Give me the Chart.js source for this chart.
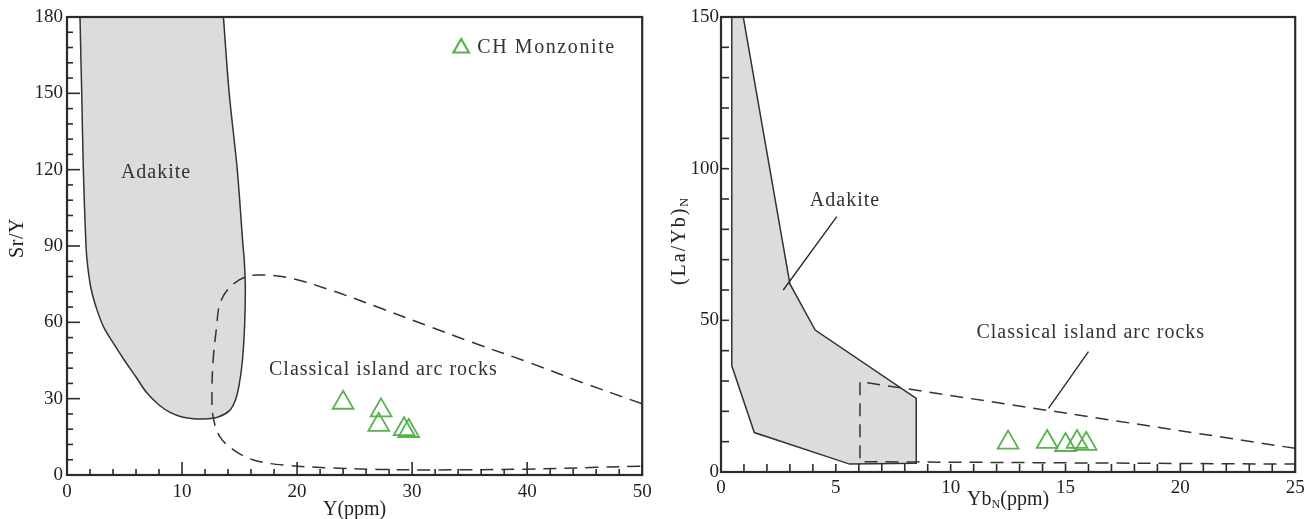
<!DOCTYPE html>
<html>
<head>
<meta charset="utf-8">
<script src="https://cdn.jsdelivr.net/npm/chart.js@4.4.1/dist/chart.umd.min.js"></script>
<style>
  html, body { margin: 0; padding: 0; background: #fff; overflow: hidden; }
  .wrap { position: relative; width: 1304px; height: 519px; overflow: hidden; }
  canvas { display: block; position: absolute; top: 0; }
  #srY { left: 0; }
  #laYb { left: 652px; }
</style>
</head>
<body>
<div class="wrap">
  <canvas id="srY" width="656" height="519"></canvas>
  <canvas id="laYb" width="657" height="519"></canvas>
</div>
<script>
// ---- Sr/Y vs Y diagram ----
const srYSampleY = [24.0, 27.3, 27.1, 29.3, 29.7];
const srYSampleRatio = [28.4, 25.4, 19.7, 18.0, 17.3];

// field outline runs a little past the top edge so the corners get clipped
const srYAdakiteX = [1.1, 1.13, 1.28, 1.42, 1.65, 1.8, 2.1, 2.6, 3.2, 4.0, 5.0, 6.0, 6.9, 8.0, 9.0, 10.0, 11.0, 12.2, 13.2, 14.1, 14.6, 14.95, 15.25, 15.45, 15.5, 15.4, 15.3, 14.8, 14.1, 13.6, 13.4, 1.1];
const srYAdakiteR = [195, 180, 150, 120, 90, 82, 73, 65, 58, 52, 45, 38.5, 32.5, 27.5, 24.5, 22.8, 22.1, 22.1, 22.9, 25.2, 29, 35, 45, 60, 75, 85, 90, 120, 150, 180, 195, 195];

const srYArcX = [50, 45, 40.3, 35, 31.6, 27, 22.9, 19.4, 17.0, 15.6, 14.2, 13.3, 13.0, 12.7, 12.6, 12.7, 13.3, 14.5, 16.2, 18.8, 22.9, 27, 32, 40, 46, 50];
const srYArcR = [28, 36, 44, 52.5, 58.2, 66, 72.7, 77.4, 78.6, 78, 74, 67.5, 58, 45, 32, 22.8, 15, 9.8, 5.9, 3.9, 2.8, 2.2, 2.0, 2.3, 3.0, 3.5];

const srYTicksX = [0, 10, 20, 30, 40, 50];
const srYTicksY = [0, 30, 60, 90, 120, 150, 180];

// ---- (La/Yb)N vs YbN diagram ----
const laYbSampleYb = [12.5, 14.2, 15.0, 15.5, 15.9];
const laYbSampleRatio = [9.7, 9.9, 8.9, 9.9, 9.3];

const laYbAdakiteX = [0.97, 3.0, 4.1, 8.5, 8.5, 5.6, 1.45, 0.47, 0.47, 0.97];
const laYbAdakiteR = [150, 62, 46.8, 24.3, 2.9, 2.6, 13.0, 35, 150, 150];

const laYbArcX = [25, 6.05, 6.05, 25];
const laYbArcR = [7.8, 29.8, 3.4, 2.6];

const laYbAdakitePointerX = [5.04, 2.71];
const laYbAdakitePointerR = [84.2, 60.0];
const laYbArcPointerX = [16.0, 14.26];
const laYbArcPointerR = [39.7, 21.0];

const laYbTicksX = [0, 5, 10, 15, 20, 25];
const laYbTicksY = [0, 50, 100, 150];

const pts = (xs, ys) => xs.map((x, i) => ({ x: x, y: ys[i] }));

const GREEN = '#58b24f';
const INK = '#2b2b2b';
const SERIF = '"Liberation Serif", "DejaVu Serif", serif';

function axis(min, max, step, labels, size, gap, isX) {
    return {
        type: 'linear',
        min: min,
        max: max,
        // invisible tick marks only give the labels their gap from the axis
        grid: { display: true, drawOnChartArea: false, drawTicks: true, tickLength: gap, tickColor: 'rgba(0,0,0,0)' },
        border: { display: false },
        ticks: {
            stepSize: step,
            autoSkip: false,
            maxRotation: 0,
            padding: 0,
            color: '#222',
            font: { family: SERIF, size: 19 },
            callback: v => labels.includes(v) ? String(v) : ''
        },
        afterFit: s => { if (isX) s.height = size; else s.width = size; }
    };
}

// box, inward tick marks, labels in the plot, legend and axis titles
const decor = {
    id: 'decor',
    afterDatasetsDraw(chart, args, o) {
        const ctx = chart.ctx, a = chart.chartArea;
        ctx.save();
        ctx.strokeStyle = INK;
        ctx.lineWidth = 1.6;
        ['x', 'y'].forEach(id => {
            const s = chart.scales[id];
            s.ticks.forEach(t => {
                const len = t.label !== '' ? o.major : o.minor;
                const p = s.getPixelForValue(t.value);
                ctx.beginPath();
                if (id === 'x') { ctx.moveTo(p, a.bottom); ctx.lineTo(p, a.bottom - len); }
                else { ctx.moveTo(a.left, p); ctx.lineTo(a.left + len, p); }
                ctx.stroke();
            });
        });
        ctx.lineWidth = 2.2;
        ctx.strokeRect(a.left, a.top, a.right - a.left, a.bottom - a.top);

        ctx.fillStyle = '#333';
        ctx.font = '20px ' + SERIF;
        ctx.letterSpacing = '1px';
        ctx.textAlign = 'center';
        ctx.textBaseline = 'middle';
        (o.notes || []).forEach(n => {
            ctx.fillText(n.text, chart.scales.x.getPixelForValue(n.x), chart.scales.y.getPixelForValue(n.y));
        });

        if (o.legend) {
            const lx = a.right - o.legend.dx, ly = a.top + o.legend.dy;
            ctx.strokeStyle = GREEN;
            ctx.fillStyle = 'rgba(0,0,0,0)';
            Chart.helpers.drawPoint(ctx, { pointStyle: 'triangle', radius: 9, rotation: 0, borderWidth: 1.8 }, lx, ly + 1);
            ctx.fillStyle = '#333';
            ctx.textAlign = 'left';
            ctx.letterSpacing = '1.6px';
            ctx.fillText(o.legend.text, lx + 16, ly + 1);
        }
        ctx.restore();
    },
    afterDraw(chart, args, o) {
        const ctx = chart.ctx, a = chart.chartArea;
        const drawRuns = (runs, spacing) => {
            ctx.letterSpacing = spacing || '0px';
            let w = 0;
            runs.forEach(r => { ctx.font = (r.sub ? '12px ' : '20px ') + SERIF; w += ctx.measureText(r.t).width; });
            let x = -w / 2;
            runs.forEach(r => {
                ctx.font = (r.sub ? '12px ' : '20px ') + SERIF;
                ctx.fillText(r.t, x, r.sub ? 5 : 0);
                x += ctx.measureText(r.t).width;
            });
        };
        ctx.save();
        ctx.fillStyle = '#222';
        ctx.textAlign = 'left';
        ctx.textBaseline = 'middle';
        ctx.translate((a.left + a.right) / 2, a.bottom + o.xTitleOff);
        drawRuns(o.xTitle);
        ctx.restore();
        ctx.save();
        ctx.fillStyle = '#222';
        ctx.textAlign = 'left';
        ctx.textBaseline = 'middle';
        ctx.translate(a.left + o.yTitleOff, (a.top + a.bottom) / 2 + o.yTitleShift);
        ctx.rotate(-Math.PI / 2);
        drawRuns(o.yTitle, o.yTitleSpacing);
        ctx.restore();
    }
};

const sampleStyle = {
    showLine: false,
    pointStyle: 'triangle',
    pointRadius: 12,
    pointBorderWidth: 1.8,
    pointBorderColor: GREEN,
    pointBackgroundColor: 'rgba(0,0,0,0)'
};

new Chart(document.getElementById('srY'), {
    type: 'scatter',
    data: {
        datasets: [
            Object.assign({ label: 'CH Monzonite', data: pts(srYSampleY, srYSampleRatio) }, sampleStyle),
            {
                label: 'Classical island arc rocks',
                data: pts(srYArcX, srYArcR),
                showLine: true, pointRadius: 0, tension: 0.35,
                borderColor: '#333', borderWidth: 1.5, borderDash: [13, 8], fill: false
            },
            {
                label: 'Adakite',
                data: pts(srYAdakiteX, srYAdakiteR),
                showLine: true, pointRadius: 0, tension: 0.3,
                borderColor: '#333', borderWidth: 1.5,
                backgroundColor: '#dcdcdc', fill: 'shape'
            }
        ]
    },
    options: {
        responsive: false,
        animation: false,
        events: [],
        layout: { padding: { top: 17, right: 10, left: 0, bottom: 0 } },
        scales: {
            x: axis(0, 50, 2, srYTicksX, 44, 6, true),
            y: axis(0, 180, 6, srYTicksY, 67, 4, false)
        },
        plugins: {
            legend: { display: false },
            tooltip: { enabled: false },
            decor: {
                major: 13, minor: 6,
                notes: [
                    { text: 'Adakite', x: 7.74, y: 118.7 },
                    { text: 'Classical island arc rocks', x: 27.5, y: 41.3 }
                ],
                legend: { text: 'CH Monzonite', dx: 181, dy: 30 },
                xTitle: [{ t: 'Y(ppm)' }], xTitleOff: 35,
                yTitle: [{ t: 'Sr/Y' }], yTitleOff: -49.5, yTitleShift: -8, yTitleSpacing: '0.5px'
            }
        }
    },
    plugins: [decor]
});

new Chart(document.getElementById('laYb'), {
    type: 'scatter',
    data: {
        datasets: [
            Object.assign({ label: 'CH Monzonite', data: pts(laYbSampleYb, laYbSampleRatio) }, sampleStyle),
            {
                label: 'Adakite pointer',
                data: pts(laYbAdakitePointerX, laYbAdakitePointerR),
                showLine: true, pointRadius: 0, borderColor: '#222', borderWidth: 1.3
            },
            {
                label: 'Arc pointer',
                data: pts(laYbArcPointerX, laYbArcPointerR),
                showLine: true, pointRadius: 0, borderColor: '#222', borderWidth: 1.3
            },
            {
                label: 'Classical island arc rocks',
                data: pts(laYbArcX, laYbArcR),
                showLine: true, pointRadius: 0, tension: 0,
                borderColor: '#333', borderWidth: 1.5, borderDash: [13, 8], fill: false
            },
            {
                label: 'Adakite',
                data: pts(laYbAdakiteX, laYbAdakiteR),
                showLine: true, pointRadius: 0, tension: 0,
                borderColor: '#333', borderWidth: 1.5,
                backgroundColor: '#dcdcdc', fill: 'shape'
            }
        ]
    },
    options: {
        responsive: false,
        animation: false,
        events: [],
        layout: { padding: { top: 17, right: 9, left: 0, bottom: 0 } },
        scales: {
            x: axis(0, 25, 1, laYbTicksX, 47, 5, true),
            y: axis(0, 150, 10, laYbTicksY, 69, 2, false)
        },
        plugins: {
            legend: { display: false },
            tooltip: { enabled: false },
            decor: {
                major: 8, minor: 8,
                notes: [
                    { text: 'Adakite', x: 5.4, y: 89.3 },
                    { text: 'Classical island arc rocks', x: 16.1, y: 45.8 }
                ],
                xTitle: [{ t: 'Yb' }, { t: 'N', sub: true }, { t: '(ppm)' }], xTitleOff: 28,
                yTitle: [{ t: '(La/Yb)' }, { t: 'N', sub: true }], yTitleOff: -41, yTitleShift: -4, yTitleSpacing: '2px'
            }
        }
    },
    plugins: [decor]
});
</script>
</body>
</html>
